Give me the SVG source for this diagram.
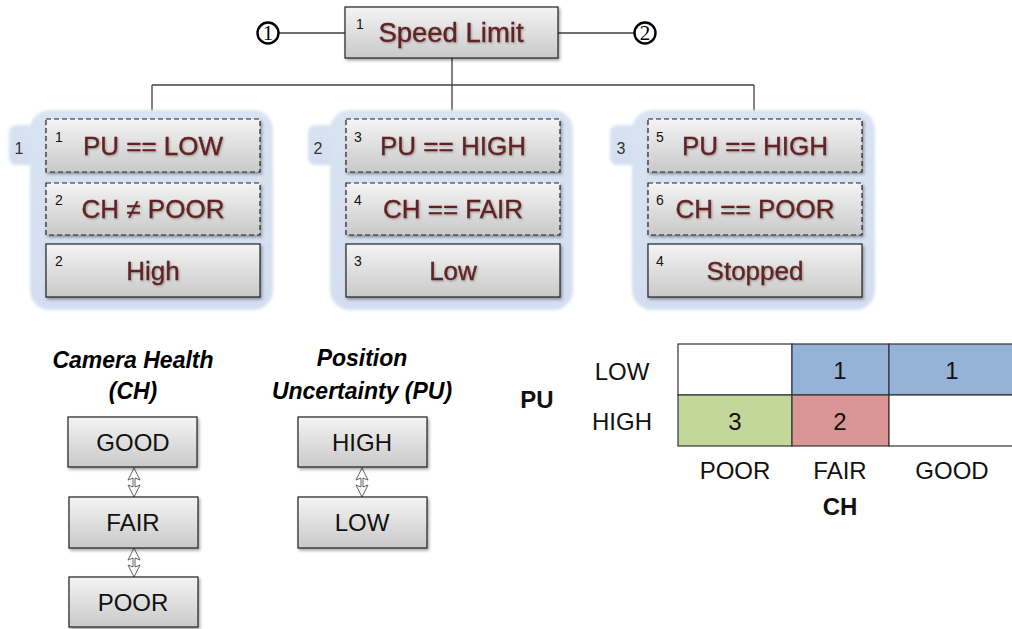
<svg xmlns="http://www.w3.org/2000/svg" width="1012" height="629" viewBox="0 0 1012 629">
<defs>
<linearGradient id="gbox" x1="0" y1="0" x2="0" y2="1">
<stop offset="0" stop-color="#f4f4f4"/>
<stop offset="1" stop-color="#c9c9c9"/>
</linearGradient>
<linearGradient id="ggrp" x1="0" y1="0" x2="0" y2="1">
<stop offset="0" stop-color="#d9e3f2"/>
<stop offset="1" stop-color="#d3def0"/>
</linearGradient>
<filter id="sh" x="-10%" y="-10%" width="125%" height="135%">
<feDropShadow dx="1.5" dy="2" stdDeviation="1.5" flood-color="#000" flood-opacity="0.35"/>
</filter>
<filter id="tsh" x="-5%" y="-20%" width="110%" height="150%">
<feDropShadow dx="1" dy="1" stdDeviation="0.8" flood-color="#000" flood-opacity="0.3"/>
</filter>
<filter id="soft" x="-10%" y="-10%" width="120%" height="120%">
<feGaussianBlur stdDeviation="1.5"/>
</filter>
</defs>
<style>
.box{fill:url(#gbox);stroke:#222;stroke-width:1.2;filter:url(#sh)}
.dash{stroke-dasharray:5 3}
.grp{fill:url(#ggrp)}
.t{font-family:"Liberation Sans",Arial,sans-serif;font-size:26px;fill:#632423;text-anchor:middle;stroke:#632423;stroke-width:0.35;filter:url(#tsh)}
.sup{font-family:"Liberation Sans",Arial,sans-serif;font-size:14px;fill:#111}
.gn{font-family:"Liberation Sans",Arial,sans-serif;font-size:16px;fill:#333;text-anchor:middle}
.b{font-family:"Liberation Sans",Arial,sans-serif;font-size:24px;fill:#111;text-anchor:middle}
.hd{font-family:"Liberation Sans",Arial,sans-serif;font-size:23px;font-weight:bold;font-style:italic;fill:#000;text-anchor:middle}
.bold{font-weight:bold}
.ln{stroke:#404040;stroke-width:1.3;fill:none}
.arr{stroke:#505050;stroke-width:0.9;fill:#fff;stroke-linejoin:miter}
.sbox{fill:url(#gbox);stroke:#222;stroke-width:1.2;filter:url(#sh)}
.cell{stroke:#333;stroke-width:1.2}
.cn{font-family:"Liberation Serif","Times New Roman",serif;font-size:21px;text-anchor:middle;fill:#000}
</style>
<rect width="1012" height="629" fill="#fff"/>

<g id="connectors">
<line class="ln" x1="279" y1="33" x2="345" y2="33"/>
<line class="ln" x1="558" y1="33" x2="634" y2="33"/>
<line class="ln" x1="452" y1="58" x2="452" y2="85"/>
<line class="ln" x1="152" y1="85" x2="754" y2="85"/>
<line class="ln" x1="152" y1="85" x2="152" y2="111"/>
<line class="ln" x1="452" y1="85" x2="452" y2="111"/>
<line class="ln" x1="754" y1="85" x2="754" y2="111"/>
<path class="arr" d="M134,468 L140,480 L135,478 L135,487 L140,485 L134,497 L128,485 L133,487 L133,478 L128,480 Z"/>
<path class="arr" d="M134,548 L140,560 L135,558 L135,567 L140,565 L134,577 L128,565 L133,567 L133,558 L128,560 Z"/>
<path class="arr" d="M362,468 L368,480 L363,478 L363,487 L368,485 L362,497 L356,485 L361,487 L361,478 L356,480 Z"/>
</g>

<g id="c1">
<circle cx="268" cy="33" r="10.5" fill="#fff" stroke="#000" stroke-width="2.4"/>
<text class="cn" x="268" y="40">1</text>
</g>
<g id="c2">
<circle cx="645" cy="33" r="10.5" fill="#fff" stroke="#000" stroke-width="2.4"/>
<text class="cn" x="645" y="40">2</text>
</g>

<g id="speed-limit">
<rect class="box" x="345" y="7" width="213" height="51"/>
<text class="sup" x="356" y="29">1</text>
<text class="t" x="451" y="42" style="font-size:27.5px">Speed Limit</text>
</g>

<g id="group1">
<g filter="url(#soft)">
<rect class="grp" x="9" y="125" width="40" height="40" rx="7"/>
<rect class="grp" x="30" y="110" width="243" height="200" rx="20"/>
</g>
<text class="gn" x="19" y="154">1</text>
<rect class="box dash" x="46" y="119" width="214" height="53"/>
<text class="sup" x="55" y="142">1</text>
<text class="t" x="153" y="155">PU == LOW</text>
<rect class="box dash" x="46" y="183" width="214" height="52"/>
<text class="sup" x="55" y="205">2</text>
<text class="t" x="153" y="218">CH ≠ POOR</text>
<rect class="box" x="46" y="244" width="214" height="53"/>
<text class="sup" x="55" y="266">2</text>
<text class="t" x="153" y="280">High</text>
</g>

<g id="group2">
<g filter="url(#soft)">
<rect class="grp" x="308" y="125" width="40" height="40" rx="7"/>
<rect class="grp" x="330" y="110" width="243" height="200" rx="20"/>
</g>
<text class="gn" x="318" y="154">2</text>
<rect class="box dash" x="346" y="119" width="214" height="53"/>
<text class="sup" x="354" y="142">3</text>
<text class="t" x="453" y="155">PU == HIGH</text>
<rect class="box dash" x="346" y="183" width="214" height="52"/>
<text class="sup" x="354" y="205">4</text>
<text class="t" x="453" y="218">CH == FAIR</text>
<rect class="box" x="346" y="244" width="214" height="53"/>
<text class="sup" x="354" y="266">3</text>
<text class="t" x="453" y="280">Low</text>
</g>

<g id="group3">
<g filter="url(#soft)">
<rect class="grp" x="610" y="125" width="40" height="40" rx="7"/>
<rect class="grp" x="632" y="110" width="243" height="200" rx="20"/>
</g>
<text class="gn" x="621" y="154">3</text>
<rect class="box dash" x="648" y="119" width="214" height="53"/>
<text class="sup" x="656" y="142">5</text>
<text class="t" x="755" y="155">PU == HIGH</text>
<rect class="box dash" x="648" y="183" width="214" height="52"/>
<text class="sup" x="656" y="205">6</text>
<text class="t" x="755" y="218">CH == POOR</text>
<rect class="box" x="648" y="244" width="214" height="53"/>
<text class="sup" x="656" y="266">4</text>
<text class="t" x="755" y="280">Stopped</text>
</g>

<g id="ch-legend">
<text class="hd" x="133" y="368">Camera Health</text>
<text class="hd" x="133" y="399">(CH)</text>
</g>
<g id="ch-good"><rect class="sbox" x="68" y="417" width="129" height="50"/><text class="b" x="133" y="451">GOOD</text></g>
<g id="ch-fair"><rect class="sbox" x="69" y="497" width="129" height="51"/><text class="b" x="133" y="531">FAIR</text></g>
<g id="ch-poor"><rect class="sbox" x="69" y="577" width="129" height="50"/><text class="b" x="133" y="611">POOR</text></g>

<g id="pu-legend">
<text class="hd" x="362" y="366">Position</text>
<text class="hd" x="362" y="399">Uncertainty (PU)</text>
</g>
<g id="pu-high"><rect class="sbox" x="298" y="417" width="129" height="50"/><text class="b" x="362" y="451">HIGH</text></g>
<g id="pu-low"><rect class="sbox" x="298" y="497" width="129" height="51"/><text class="b" x="362" y="531">LOW</text></g>

<g id="table">
<rect class="cell" x="678" y="344" width="114" height="51" fill="#fff"/>
<rect class="cell" x="792" y="344" width="97" height="51" fill="#95b3d7"/>
<rect class="cell" x="889" y="344" width="130" height="51" fill="#95b3d7"/>
<rect class="cell" x="678" y="395" width="114" height="51" fill="#c4d79b"/>
<rect class="cell" x="792" y="395" width="97" height="51" fill="#da9694"/>
<rect class="cell" x="889" y="395" width="130" height="51" fill="#fff"/>
<text class="b" x="840" y="379">1</text>
<text class="b" x="952" y="379">1</text>
<text class="b" x="735" y="430">3</text>
<text class="b" x="840" y="430">2</text>
<text class="b" x="622" y="380">LOW</text>
<text class="b" x="622" y="430">HIGH</text>
<text class="b bold" x="537" y="408">PU</text>
<text class="b" x="735" y="479">POOR</text>
<text class="b" x="840" y="479">FAIR</text>
<text class="b" x="952" y="479">GOOD</text>
<text class="b bold" x="840" y="515">CH</text>
</g>
</svg>
